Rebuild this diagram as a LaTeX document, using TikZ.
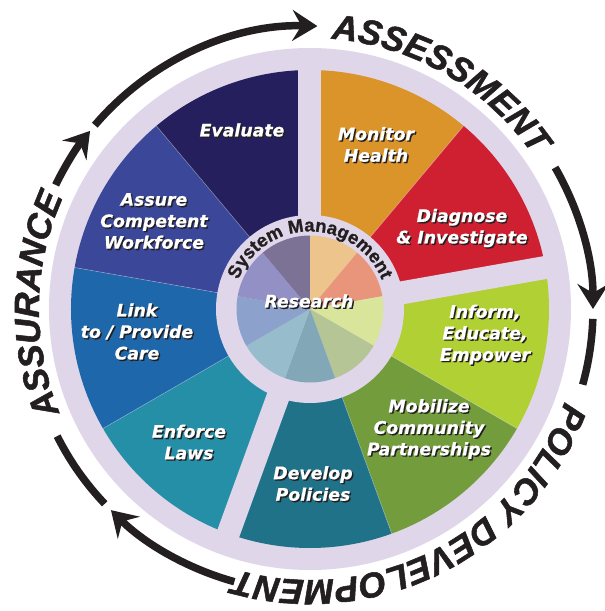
\documentclass[tikz,border=0pt]{standalone}
\usepackage{fontspec}
\usetikzlibrary{decorations.text,arrows.meta}
\newfontfamily\lblfont{DejaVu Sans}[FakeBold=0.6]
\newfontfamily\smfont{Liberation Sans Bold}[FakeBold=0.8]
\newfontfamily\outerfont{Liberation Sans Bold Italic}[FakeBold=1.5]
\definecolor{lav}{RGB}{224,214,234}
\definecolor{ink}{RGB}{35,31,32}
\definecolor{cMon}{RGB}{218,148,42}
\definecolor{cDia}{RGB}{207,32,50}
\definecolor{cInf}{RGB}{177,208,52}
\definecolor{cMob}{RGB}{115,156,61}
\definecolor{cDev}{RGB}{32,114,137}
\definecolor{cEnf}{RGB}{38,143,168}
\definecolor{cLnk}{RGB}{29,103,170}
\definecolor{cAss}{RGB}{59,71,153}
\definecolor{cEva}{RGB}{37,32,93}
\definecolor{pMon}{RGB}{237,196,140}
\definecolor{pDia}{RGB}{233,149,123}
\definecolor{pInf}{RGB}{217,229,155}
\definecolor{pMob}{RGB}{181,197,149}
\definecolor{pDev}{RGB}{130,168,184}
\definecolor{pEnf}{RGB}{151,188,204}
\definecolor{pLnk}{RGB}{140,162,204}
\definecolor{pAss}{RGB}{147,144,198}
\definecolor{pEva}{RGB}{124,114,150}
\tikzset{
  lbl/.style={font=\lblfont\bfseries\itshape\fontsize{17.3}{21.5}\selectfont, align=center, inner sep=0pt},
  shadowlbl/.style={lbl, text=ink, xshift=1.4pt, yshift=-1.4pt},
  frontlbl/.style={lbl, text=white},
  ringline/.style={draw=ink, line width=7.5pt},
  ringarrow/.style={ringline, -{Stealth[length=25pt,width=31pt,inset=9pt]}},
  gapstrip/.style={fill=lav}
}
\newcommand{\wheellabel}[4]{%
  \node[shadowlbl] (#1s) at (#2,#3) {#4};
  \node[frontlbl] (#1) at (#2,#3) {#4};
}
\begin{document}
\begin{tikzpicture}[x=1pt,y=1pt]
\useasboundingbox (-310,-302) rectangle (295,309);
\fill[white] (-310,-302) rectangle (295,309);
% outer lavender disk
\fill[lav] (0,0) circle[radius=261];
% wedges
\foreach \a/\b/\c in {90/50/cMon,50/10/cDia,10/-30/cInf,-30/-70/cMob,-70/-110/cDev,-110/-150/cEnf,-150/-190/cLnk,170/130/cAss,130/90/cEva}{
  \fill[\c] (0,0) -- (\a:239) arc[start angle=\a, end angle=\b, radius=239] -- cycle;
}
% thin separators inside groups
\foreach \a in {50,-30,-70,-150,170,130}{
  \draw[white, opacity=.35, line width=.6pt] (0,0) -- (\a:239);
}
% gaps between groups
\foreach \a in {90,10,-110}{
  \fill[gapstrip, rotate=\a] (0,-11.5) rectangle (250,11.5);
}
% inner ring
\fill[lav] (0,0) circle[radius=94];
% inner pie
\foreach \a/\b/\c in {90/50/pMon,50/10/pDia,10/-30/pInf,-30/-70/pMob,-70/-110/pDev,-110/-150/pEnf,-150/-190/pLnk,170/130/pAss,130/90/pEva}{
  \fill[\c] (0,0) -- (\a:73.5) arc[start angle=\a, end angle=\b, radius=73.5] -- cycle;
}
% System Management
\path[decorate, decoration={text along path, text align=center,
  text={|\smfont\fontsize{18.5}{18.5}\selectfont\color{ink}|System Management}}]
  (165:77.5) arc[start angle=165, end angle=15, radius=77.5];
% labels
\wheellabel{eva}{-68}{179}{Evaluate}
\wheellabel{mon}{66}{164.5}{Monitor\\Health}
\wheellabel{dia}{152}{81}{Diagnose\\\& Investigate}
\wheellabel{inf}{175}{-25.5}{Inform,\\Educate,\\Empower}
\wheellabel{mob}{119}{-120}{Mobilize\\Community\\Partnerships}
\wheellabel{dev}{3}{-174.5}{Develop\\Policies}
\wheellabel{enf}{-121}{-133}{Enforce\\Laws}
\wheellabel{lnk}{-173}{-22.5}{Link\\to / Provide\\Care}
\wheellabel{asc}{-156}{88}{Assure\\Competent\\Workforce}
\wheellabel{res}{-1}{8}{Research}
% outer texts
\path[decorate, decoration={text along path, text align=center,
  text={|\outerfont\fontsize{35}{35}\selectfont\color{ink}|ASSESSMENT}}]
  (100:271) arc[start angle=100, end angle=20, radius=271];
\path[decorate, decoration={text along path, text align=center,
  text={|\outerfont\fontsize{35}{35}\selectfont\color{ink}|POLICY DEVELOPMENT}}]
  (-12:271) arc[start angle=-12, end angle=-114, radius=271];
\path[decorate, decoration={text along path, text align=center,
  text={|\outerfont\fontsize{35}{35}\selectfont\color{ink}|ASSURANCE}}]
  (214:271) arc[start angle=214, end angle=144, radius=271];
% ring arrows
\coordinate (a1s) at (154:283);
\coordinate (a2s) at (139.5:283);
\coordinate (a3s) at (30:283);
\coordinate (a4s) at (-2:283);
\coordinate (a5s) at (-105.5:283);
\coordinate (a6s) at (-136.5:283);
\draw[ringarrow] (a1s) arc[start angle=154, end angle=141, radius=283];
\draw[ringarrow] (a2s) arc[start angle=139.5, end angle=88.5, radius=283];
\draw[ringarrow] (a3s) arc[start angle=30, end angle=0, radius=283];
\draw[ringline] (a4s) arc[start angle=-2, end angle=-15.5, radius=283];
\draw[ringarrow] (a5s) arc[start angle=-105.5, end angle=-134.7, radius=283];
\draw[ringline] (a6s) arc[start angle=-136.5, end angle=-153.3, radius=283];
\end{tikzpicture}
\end{document}
